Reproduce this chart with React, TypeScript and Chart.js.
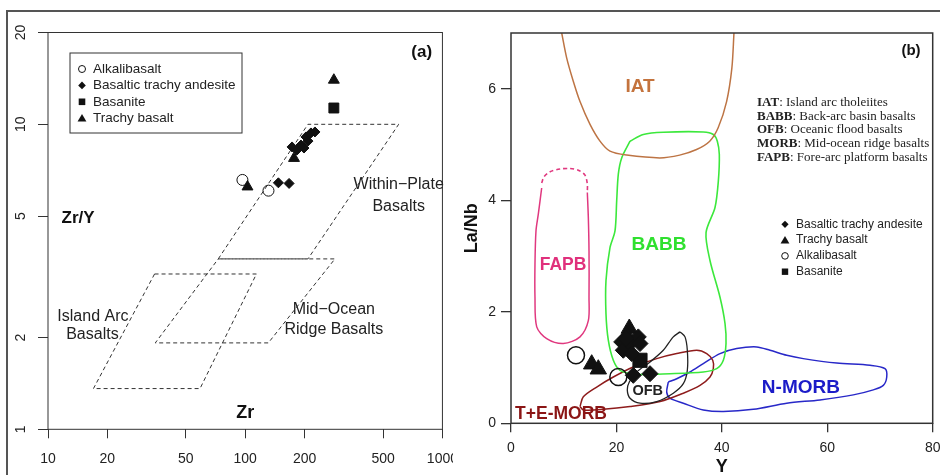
import React, { useEffect, useRef } from 'react';
import { Chart, registerables } from 'chart.js';
Chart.register(...registerables);

const FONT = "'Liberation Sans', Arial, Helvetica, sans-serif";
const SERIF = "'Liberation Serif', 'Times New Roman', serif";

// ---------- Panel (a): Zr vs Zr/Y ----------
const zrTickValues = [10, 20, 50, 100, 200, 500, 1000];
const zrYTickValues = [1, 2, 5, 10, 20];

const alkalibasaltZr = [96.8, 131.2];
const alkalibasaltZrY = [6.57, 6.06];
const btaZr = [147.3, 166.9, 172.8, 183.1, 191.8, 203.3, 215.4, 225.7, 208.1, 198.6];
const btaZrY = [6.43, 6.4, 8.43, 8.24, 8.55, 9.09, 9.37, 9.44, 8.81, 8.36];
const basaniteZr = [281.5];
const basaniteZrY = [11.31];
const trachyBasaltZr = [102.7, 176.8, 281.5];
const trachyBasaltZrY = [6.24, 7.74, 13.97];

const wpbZr = [73, 208, 600, 208, 73];
const wpbZrY = [3.62, 10, 10, 3.62, 3.62];
const morbZr = [73, 285, 131, 35, 73];
const morbZrY = [3.62, 3.62, 1.92, 1.92, 3.62];
const iabZr = [34.7, 114, 59, 17, 34.7];
const iabZrY = [3.23, 3.23, 1.36, 1.36, 3.23];

const labelsA = [
  { text: 'Within\u2212Plate', x: 600, y: 6.32 },
  { text: 'Basalts', x: 600, y: 5.36 },
  { text: 'Island Arc', x: 16.9, y: 2.35 },
  { text: 'Basalts', x: 16.8, y: 2.04 },
  { text: 'Mid\u2212Ocean', x: 281.5, y: 2.47 },
  { text: 'Ridge Basalts', x: 281.5, y: 2.13 },
];

// ---------- Panel (b): Y vs La/Nb ----------
const yTickValues = [0, 20, 40, 60, 80];
const laNbTickValues = [0, 2, 4, 6];

const iatY = [9.62, 10.57, 11.83, 13.09, 14.99, 16.88, 18.78, 21.95, 28.22, 32.0, 35.2, 37.7, 39.3, 40.9, 41.9, 42.3];
const iatLaNb = [7.0, 6.55, 6.13, 5.77, 5.36, 5.06, 4.88, 4.81, 4.76, 4.81, 4.91, 5.06, 5.3, 5.77, 6.37, 7.0];

const babbY = [22.58, 25.1, 28.9, 36.48, 38.38, 39.14, 39.52, 39.33, 38.7, 37.0, 37.75, 39.65, 40.6, 40.79, 40.28, 39.02, 36.48, 30.16, 23.85, 20.68, 19.41, 18.46, 18.02, 18.02, 18.78, 19.73, 20.05, 20.36, 21.0, 22.58];
const babbLaNb = [5.06, 5.18, 5.22, 5.225, 5.18, 5.06, 4.82, 4.34, 3.87, 3.42, 2.92, 2.26, 1.79, 1.43, 1.13, 0.98, 0.92, 0.89, 0.88, 0.95, 1.13, 1.49, 1.96, 2.56, 3.15, 3.45, 3.99, 4.47, 4.76, 5.06];

const fapbDashY = [5.82, 6.26, 7.4, 9.3, 11.19, 12.77, 14.04, 14.48, 14.48];
const fapbDashLaNb = [4.31, 4.42, 4.51, 4.56, 4.57, 4.54, 4.45, 4.29, 4.14];
const fapbY = [14.48, 14.67, 14.8, 14.8, 14.67, 13.09, 9.92, 6.77, 4.88, 4.55, 4.55, 4.74, 5.18, 5.82];
const fapbLaNb = [4.14, 3.69, 3.09, 2.26, 1.84, 1.55, 1.43, 1.52, 1.73, 2.26, 2.86, 3.45, 3.75, 4.22];

const ofbY = [32.06, 33.01, 33.45, 33.45, 32.69, 30.79, 27.64, 24.47, 22.58, 22.06, 22.44, 23.85, 26.37, 28.89, 30.79, 32.06];
const ofbLaNb = [1.64, 1.55, 1.31, 0.95, 0.71, 0.54, 0.39, 0.36, 0.45, 0.6, 0.74, 0.92, 1.1, 1.31, 1.55, 1.64];

const temorbY = [13.09, 13.72, 16.26, 19.41, 23.2, 27.64, 31.44, 35.23, 37.13, 38.27, 38.38, 37.75, 35.86, 32.69, 28.27, 22.58, 17.51, 13.72, 13.09];
const temorbLaNb = [0.3, 0.475, 0.65, 0.83, 1.01, 1.16, 1.25, 1.31, 1.25, 1.13, 0.98, 0.83, 0.68, 0.54, 0.39, 0.3, 0.25, 0.24, 0.3];

const nmorbY = [29.84, 31.44, 33.96, 36.48, 39.65, 42.82, 46.61, 49.14, 52.31, 55.45, 61.79, 68.11, 70.95, 71.28, 70.63, 68.73, 64.94, 58.62, 52.31, 45.97, 40.28, 36.48, 32.69, 30.16, 29.54, 29.84];
const nmorbLaNb = [0.74, 0.8, 0.92, 1.07, 1.25, 1.34, 1.37, 1.31, 1.22, 1.16, 1.08, 1.04, 0.98, 0.83, 0.68, 0.6, 0.51, 0.42, 0.36, 0.25, 0.21, 0.24, 0.36, 0.45, 0.56, 0.74];

const btaY = [21.0, 21.3, 22.58, 24.15, 24.47, 22.9, 21.8, 23.2, 26.37];
const btaLaNb = [1.46, 1.31, 1.43, 1.55, 1.43, 1.25, 1.52, 0.86, 0.89];
const trachyBasaltY = [15.31, 16.56, 22.44, 21.95];
const trachyBasaltLaNb = [1.06, 0.97, 1.7, 1.58];
const alkalibasaltY = [12.33, 20.36];
const alkalibasaltLaNb = [1.22, 0.83];
const basaniteY = [24.47];
const basaniteLaNb = [1.13];

const regionLabelsB = [
  { text: 'IAT', x: 24.47, y: 6.04, color: '#c4733d', size: 19 },
  { text: 'BABB', x: 28.08, y: 3.2, color: '#2fe02f', size: 19 },
  { text: 'FAPB', x: 9.87, y: 2.83, color: '#e0307c', size: 17.5 },
  { text: 'OFB', x: 25.93, y: 0.58, color: '#222222', size: 14.5 },
  { text: 'N-MORB', x: 55.0, y: 0.63, color: '#1c1cc8', size: 19 },
  { text: 'T+E-MORB', x: 9.49, y: 0.17, color: '#8b1515', size: 17.5 },
];

const abbrevs = ['IAT', 'BABB', 'OFB', 'MORB', 'FAPB'];
const abbrevMeanings = ['Island arc tholeiites', 'Back-arc basin basalts', 'Oceanic flood basalts', 'Mid-ocean ridge basalts', 'Fore-arc platform basalts'];

const legendA = [
  { shape: 'circle', text: 'Alkalibasalt' },
  { shape: 'diamond', text: 'Basaltic trachy andesite' },
  { shape: 'square', text: 'Basanite' },
  { shape: 'triangle', text: 'Trachy basalt' },
];
const legendB = [
  { shape: 'diamond', text: 'Basaltic trachy andesite' },
  { shape: 'triangle', text: 'Trachy basalt' },
  { shape: 'circle', text: 'Alkalibasalt' },
  { shape: 'square', text: 'Basanite' },
];

const zip = (xs: number[], ys: number[]) => xs.map((x, i) => ({ x, y: ys[i] }));

function drawMarker(ctx: CanvasRenderingContext2D, shape: string, x: number, y: number, r: number) {
  ctx.save();
  ctx.beginPath();
  if (shape === 'circle') ctx.arc(x, y, r, 0, Math.PI * 2);
  else if (shape === 'diamond') {
    ctx.moveTo(x, y - r); ctx.lineTo(x + r, y); ctx.lineTo(x, y + r); ctx.lineTo(x - r, y); ctx.closePath();
  } else if (shape === 'square') ctx.rect(x - r, y - r, 2 * r, 2 * r);
  else {
    ctx.moveTo(x, y - r); ctx.lineTo(x + r * 1.05, y + r * 0.8); ctx.lineTo(x - r * 1.05, y + r * 0.8); ctx.closePath();
  }
  if (shape === 'circle') { ctx.strokeStyle = '#111'; ctx.lineWidth = 1; ctx.stroke(); }
  else { ctx.fillStyle = '#111'; ctx.fill(); }
  ctx.restore();
}

const pointDs = (label: string, data: any[], style: string, r: number, filled: boolean, bw = 1) => ({
  label, data, showLine: false, pointStyle: style, pointRadius: r, pointHoverRadius: r,
  backgroundColor: filled ? '#111' : 'rgba(0,0,0,0)', borderColor: '#111',
  pointBackgroundColor: filled ? '#111' : 'rgba(0,0,0,0)', pointBorderColor: '#111',
  pointBorderWidth: bw, borderWidth: bw, order: 0,
});
const lineDs = (label: string, data: any[], color: string, dash: number[], width: number, tension: number) => ({
  label, data, showLine: true, pointRadius: 0, pointHoverRadius: 0, borderColor: color, borderWidth: width,
  borderDash: dash, tension, fill: false, backgroundColor: 'rgba(0,0,0,0)', order: 1,
});

const decorA = {
  id: 'decorA',
  afterDraw(chart: any) {
    const { ctx, chartArea: ca, scales } = chart;
    const sx = scales.x, sy = scales.y;
    ctx.save();
    ctx.strokeStyle = '#333';
    ctx.lineWidth = 1;
    ctx.strokeRect(ca.left, ca.top, ca.right - ca.left, ca.bottom - ca.top);
    ctx.fillStyle = '#222';
    ctx.textBaseline = 'middle';
    ctx.textAlign = 'center';
    ctx.font = `16px ${FONT}`;
    labelsA.forEach((l) => ctx.fillText(l.text, sx.getPixelForValue(l.x), sy.getPixelForValue(l.y)));
    ctx.fillStyle = '#111';
    ctx.font = `bold 17px ${FONT}`;
    ctx.fillText('Zr/Y', sx.getPixelForValue(14.2), sy.getPixelForValue(4.93));
    ctx.font = `bold 18px ${FONT}`;
    ctx.fillText('Zr', sx.getPixelForValue(100), sy.getPixelForValue(1.13));
    ctx.font = `bold 17px ${FONT}`;
    ctx.fillText('(a)', ca.left + 373.7, ca.top + 19.5);
    // legend box
    const bx = ca.left + 22, by = ca.top + 20.5;
    ctx.strokeStyle = '#333';
    ctx.strokeRect(bx, by, 172, 80);
    ctx.font = `13.5px ${FONT}`;
    ctx.textAlign = 'left';
    ctx.fillStyle = '#222';
    legendA.forEach((it, i) => {
      const yy = by + 16 + i * 16.4;
      const r = it.shape === 'circle' ? 3.5 : it.shape === 'diamond' ? 3.8 : it.shape === 'square' ? 3.3 : 4.2;
      drawMarker(ctx, it.shape, bx + 12, yy, r);
      ctx.fillStyle = '#222';
      ctx.fillText(it.text, bx + 23, yy);
    });
    ctx.restore();
  },
};

const decorB = {
  id: 'decorB',
  afterDraw(chart: any) {
    const { ctx, chartArea: ca, scales } = chart;
    const sx = scales.x, sy = scales.y;
    ctx.save();
    ctx.strokeStyle = '#333';
    ctx.lineWidth = 1.5;
    ctx.strokeRect(ca.left, ca.top, ca.right - ca.left, ca.bottom - ca.top);
    ctx.textBaseline = 'middle';
    ctx.textAlign = 'center';
    regionLabelsB.forEach((l) => {
      ctx.font = `bold ${l.size}px ${FONT}`;
      ctx.fillStyle = l.color;
      ctx.fillText(l.text, sx.getPixelForValue(l.x), sy.getPixelForValue(l.y));
    });
    ctx.fillStyle = '#111';
    ctx.font = `bold 15px ${FONT}`;
    ctx.fillText('(b)', ca.left + 400, ca.top + 18);
    // abbreviation legend
    ctx.textAlign = 'left';
    ctx.fillStyle = '#222';
    abbrevs.forEach((a, i) => {
      const xx = ca.left + 246, yy = ca.top + 69.3 + i * 13.85;
      ctx.font = `bold 13px ${SERIF}`;
      ctx.fillText(a, xx, yy);
      const w = ctx.measureText(a).width;
      ctx.font = `13px ${SERIF}`;
      ctx.fillText(': ' + abbrevMeanings[i], xx + w, yy);
    });
    // symbol legend
    ctx.font = `12px ${FONT}`;
    legendB.forEach((it, i) => {
      const yy = ca.top + 191.3 + i * 15.8;
      const r = it.shape === 'circle' ? 3.3 : it.shape === 'diamond' ? 3.6 : it.shape === 'square' ? 3.2 : 4.2;
      drawMarker(ctx, it.shape, ca.left + 274, yy, r);
      ctx.fillStyle = '#222';
      ctx.fillText(it.text, ca.left + 285, yy);
    });
    ctx.restore();
  },
};

export default function App() {
  const refA = useRef<HTMLCanvasElement>(null);
  const refB = useRef<HTMLCanvasElement>(null);

  useEffect(() => {
    const tickFont = { family: FONT, size: 14 };
    const chartA = new Chart(refA.current as HTMLCanvasElement, {
      type: 'scatter',
      data: {
        datasets: [
          pointDs('Alkalibasalt', zip(alkalibasaltZr, alkalibasaltZrY), 'circle', 5.5, false, 1),
          pointDs('Basaltic trachy andesite', zip(btaZr, btaZrY), 'rectRot', 5, true),
          pointDs('Basanite', zip(basaniteZr, basaniteZrY), 'rect', 7, true),
          pointDs('Trachy basalt', zip(trachyBasaltZr, trachyBasaltZrY), 'triangle', 6.3, true),
          lineDs('Within-Plate Basalts', zip(wpbZr, wpbZrY), '#333', [4, 3], 1, 0),
          lineDs('Mid-Ocean Ridge Basalts', zip(morbZr, morbZrY), '#333', [4, 3], 1, 0),
          lineDs('Island Arc Basalts', zip(iabZr, iabZrY), '#333', [4, 3], 1, 0),
        ] as any,
      },
      options: {
        animation: false,
        responsive: false,
        events: [],
        layout: { padding: { left: 0, right: 26, top: 32.5, bottom: 0 } },
        plugins: { legend: { display: false }, tooltip: { enabled: false } },
        scales: {
          x: {
            type: 'logarithmic', min: 10, max: 1000, position: 'bottom',
            afterBuildTicks: (s: any) => { s.ticks = zrTickValues.map((v) => ({ value: v })); },
            afterFit: (s: any) => { s.height = 45.7; },
            ticks: { callback: (v: any) => String(v), font: tickFont, color: '#222', padding: 12, autoSkip: false, maxRotation: 0, minRotation: 0 },
            grid: { drawOnChartArea: false, drawTicks: true, tickLength: 9, color: '#333', tickColor: '#333', lineWidth: 1 },
            border: { display: false },
          },
          y: {
            type: 'logarithmic', min: 1, max: 20, position: 'left',
            afterBuildTicks: (s: any) => { s.ticks = zrYTickValues.map((v) => ({ value: v })); },
            afterFit: (s: any) => { s.width = 48; },
            ticks: { callback: (v: any) => String(v), font: tickFont, color: '#222', padding: 9, autoSkip: false, minRotation: 90, maxRotation: 90, crossAlign: 'center' },
            grid: { drawOnChartArea: false, drawTicks: true, tickLength: 10, color: '#333', tickColor: '#333', lineWidth: 1 },
            border: { display: false },
          },
        } as any,
      },
      plugins: [decorA],
    } as any);

    const chartB = new Chart(refB.current as HTMLCanvasElement, {
      type: 'scatter',
      data: {
        datasets: [
          pointDs('Basaltic trachy andesite', zip(btaY, btaLaNb), 'rectRot', 8, true),
          pointDs('Trachy basalt', zip(trachyBasaltY, trachyBasaltLaNb), 'triangle', 9.5, true),
          pointDs('Alkalibasalt', zip(alkalibasaltY, alkalibasaltLaNb), 'circle', 8.5, false, 1.5),
          pointDs('Basanite', zip(basaniteY, basaniteLaNb), 'rect', 10, true),
          lineDs('IAT', zip(iatY, iatLaNb), '#bd7444', [], 1.5, 0.3),
          lineDs('BABB', zip(babbY, babbLaNb), '#3ce83c', [], 1.6, 0.3),
          lineDs('FAPB dashed', zip(fapbDashY, fapbDashLaNb), '#e0387f', [4, 3], 1.6, 0.3),
          lineDs('FAPB', zip(fapbY, fapbLaNb), '#e0387f', [], 1.5, 0.3),
          lineDs('OFB', zip(ofbY, ofbLaNb), '#222', [], 1.3, 0.3),
          lineDs('T+E-MORB', zip(temorbY, temorbLaNb), '#8e1c1c', [], 1.5, 0.3),
          lineDs('N-MORB', zip(nmorbY, nmorbLaNb), '#2828c8', [], 1.5, 0.3),
        ] as any,
      },
      options: {
        animation: false,
        responsive: false,
        events: [],
        layout: { padding: { left: 0, right: 15.3, top: 33, bottom: 0 } },
        plugins: { legend: { display: false }, tooltip: { enabled: false } },
        scales: {
          x: {
            type: 'linear', min: 0, max: 80, position: 'bottom',
            afterBuildTicks: (s: any) => { s.ticks = yTickValues.map((v) => ({ value: v })); },
            afterFit: (s: any) => { s.height = 51.7; },
            title: { display: true, text: 'Y', color: '#111', font: { family: FONT, size: 18, weight: 'bold' }, padding: { top: 0, bottom: -3 } },
            ticks: { font: tickFont, color: '#222', padding: 7.3, autoSkip: false, maxRotation: 0 },
            grid: { drawOnChartArea: false, drawTicks: true, tickLength: 9, color: '#333', tickColor: '#333', lineWidth: 1.3 },
            border: { display: false },
          },
          y: {
            type: 'linear', min: 0, max: 7, position: 'left',
            afterBuildTicks: (s: any) => { s.ticks = laNbTickValues.map((v) => ({ value: v })); },
            afterFit: (s: any) => { s.width = 53; },
            title: { display: true, text: 'La/Nb', color: '#111', font: { family: FONT, size: 18, weight: 'bold' }, padding: { top: 3.2, bottom: 0 } },
            ticks: { font: tickFont, color: '#222', padding: 5, autoSkip: false },
            grid: { drawOnChartArea: false, drawTicks: true, tickLength: 10, color: '#333', tickColor: '#333', lineWidth: 1.3 },
            border: { display: false },
          },
        } as any,
      },
      plugins: [decorB],
    } as any);

    return () => { chartA.destroy(); chartB.destroy(); };
  }, []);

  return (
    <div style={{ position: 'absolute', left: 0, top: 0, width: 940, height: 475, overflow: 'hidden', background: '#fff' }}>
      <div style={{ position: 'absolute', left: 6, top: 10, width: 940, height: 470, borderTop: '2px solid #555', borderLeft: '2px solid #555' }} />
      <div style={{ position: 'absolute', left: 0, top: 0, width: 453, height: 475, overflow: 'hidden' }}>
        <canvas ref={refA} width={470} height={475} style={{ position: 'absolute', left: 0, top: 0, display: 'block' }} />
      </div>
      <canvas ref={refB} width={490} height={475} style={{ position: 'absolute', left: 458, top: 0, display: 'block' }} />
    </div>
  );
}
